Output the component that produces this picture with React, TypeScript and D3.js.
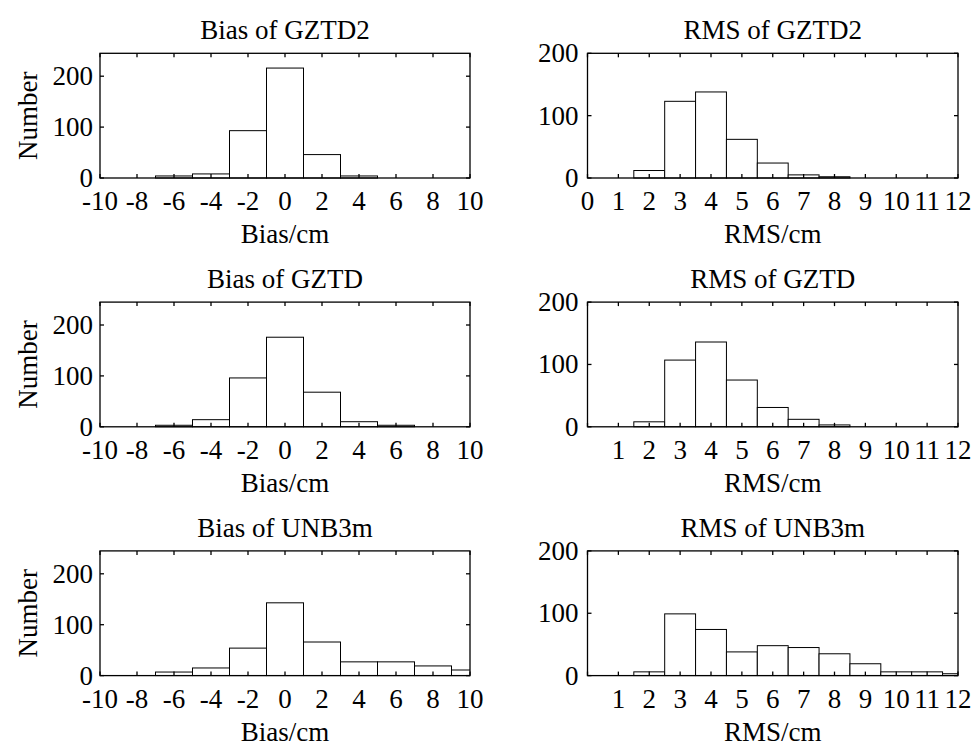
import React from "react";
import * as d3 from "d3";

// Histogram bin centres
const biasCenters = [-10, -8, -6, -4, -2, 0, 2, 4, 6, 8, 10];
const rmsCenters = [0, 1, 2, 3, 4, 5, 6, 7, 8, 9, 10, 11, 12];

// Counts per bin
const biasGZTD2 = [0, 0, 4, 8, 93, 216, 46, 4, 0, 0, 0];
const biasGZTD = [0, 0, 3, 14, 96, 176, 68, 10, 3, 0, 0];
const biasUNB3m = [0, 0, 7, 15, 54, 143, 66, 27, 27, 19, 11];

const rmsGZTD2 = [0, 0, 12, 123, 138, 62, 24, 5, 2, 0, 0, 0, 0];
const rmsGZTD = [0, 0, 8, 107, 136, 75, 31, 12, 3, 0, 0, 0, 0];
const rmsUNB3m = [0, 0, 6, 99, 74, 38, 48, 45, 35, 19, 6, 6, 3];

const models = ["GZTD2", "GZTD", "UNB3m"];
const biasTicks = [-10, -8, -6, -4, -2, 0, 2, 4, 6, 8, 10];
const rmsTicks = [0, 1, 2, 3, 4, 5, 6, 7, 8, 9, 10, 11, 12];
const countTicks = [0, 100, 200];

const W = 974;
const H = 747;
const FONT = "Liberation Serif, Times New Roman, DejaVu Serif, serif";
const FS = 27;
const ROW_TOP = 53.3;
const ROW_STEP = 248.8;
const PLOT_H = 124.7;
const TICK = 4;

type PanelProps = {
  x0: number;
  x1: number;
  top: number;
  xDomain: [number, number];
  yMax: number;
  centers: number[];
  counts: number[];
  binWidth: number;
  xTicks: number[];
  showZero: boolean;
  title: string;
  xLabel: string;
  yLabel?: string;
  id: string;
  labelGap: number;
};

function Panel(p: PanelProps) {
  const x = d3.scaleLinear().domain(p.xDomain).range([p.x0, p.x1]);
  const y = d3.scaleLinear().domain([0, p.yMax]).range([p.top + PLOT_H, p.top]);
  const bottom = p.top + PLOT_H;
  const mid = (p.x0 + p.x1) / 2;
  const clipId = `clip-${p.id}`;
  const labels = p.showZero ? p.xTicks : p.xTicks.filter((t) => t !== 0);
  return (
    <g>
      <defs>
        <clipPath id={clipId}>
          <rect x={p.x0} y={p.top - 1} width={p.x1 - p.x0} height={PLOT_H + 2} />
        </clipPath>
      </defs>
      <g clipPath={`url(#${clipId})`}>
        {p.centers.map((c, i) =>
          p.counts[i] > 0 ? (
            <rect
              key={i}
              x={x(c - p.binWidth / 2)}
              y={y(p.counts[i])}
              width={x(c + p.binWidth / 2) - x(c - p.binWidth / 2)}
              height={bottom - y(p.counts[i])}
              fill="#fff"
              stroke="#000"
              strokeWidth={1}
            />
          ) : null
        )}
      </g>
      {/* inward ticks on all four sides */}
      {p.xTicks.map((t) => (
        <g key={`xt${t}`} stroke="#000" strokeWidth={1.3}>
          <line x1={x(t)} x2={x(t)} y1={bottom} y2={bottom - TICK} />
          <line x1={x(t)} x2={x(t)} y1={p.top} y2={p.top + TICK} />
        </g>
      ))}
      {countTicks.map((t) => (
        <g key={`yt${t}`} stroke="#000" strokeWidth={1.3}>
          <line x1={p.x0} x2={p.x0 + TICK} y1={y(t)} y2={y(t)} />
          <line x1={p.x1} x2={p.x1 - TICK} y1={y(t)} y2={y(t)} />
        </g>
      ))}
      <rect
        x={p.x0}
        y={p.top}
        width={p.x1 - p.x0}
        height={PLOT_H}
        fill="none"
        stroke="#000"
        strokeWidth={1.3}
      />
      <g fontFamily={FONT} fontSize={FS} fill="#000">
        {p.xTicks.map((t) =>
          labels.includes(t) ? (
            <text key={`xl${t}`} x={x(t)} y={bottom + 32} textAnchor="middle">
              {t}
            </text>
          ) : null
        )}
        {countTicks.map((t) => (
          <text
            key={`yl${t}`}
            x={p.x0 - p.labelGap}
            y={y(t) + 9}
            textAnchor="end"
          >
            {t}
          </text>
        ))}
        <text x={mid} y={p.top - 14} textAnchor="middle">
          {p.title}
        </text>
        <text x={mid} y={bottom + 65} textAnchor="middle">
          {p.xLabel}
        </text>
        {p.yLabel ? (
          <text
            transform={`translate(37,${p.top + PLOT_H / 2}) rotate(-90)`}
            textAnchor="middle"
          >
            {p.yLabel}
          </text>
        ) : null}
      </g>
    </g>
  );
}

export default function App() {
  const biasSeries = [biasGZTD2, biasGZTD, biasUNB3m];
  const rmsSeries = [rmsGZTD2, rmsGZTD, rmsUNB3m];
  return (
    <svg
      width={W}
      height={H}
      viewBox={`0 0 ${W} ${H}`}
      style={{ position: "absolute", left: 0, top: 0, background: "#fff" }}
    >
      <rect width={W} height={H} fill="#fff" />
      {models.map((m, i) => {
        const top = ROW_TOP + i * ROW_STEP;
        return (
          <g key={m}>
            <Panel
              id={`bias${i}`}
              x0={100}
              x1={470}
              top={top}
              xDomain={[-10, 10]}
              yMax={245}
              centers={biasCenters}
              counts={biasSeries[i]}
              binWidth={2}
              xTicks={biasTicks}
              showZero={true}
              title={`Bias of ${m}`}
              xLabel="Bias/cm"
              yLabel="Number"
              labelGap={7}
            />
            <Panel
              id={`rms${i}`}
              x0={587.5}
              x1={958}
              top={top}
              xDomain={[0, 12]}
              yMax={200}
              centers={rmsCenters}
              counts={rmsSeries[i]}
              binWidth={1}
              xTicks={rmsTicks}
              showZero={i === 0}
              title={`RMS of ${m}`}
              xLabel="RMS/cm"
              labelGap={9}
            />
          </g>
        );
      })}
    </svg>
  );
}
